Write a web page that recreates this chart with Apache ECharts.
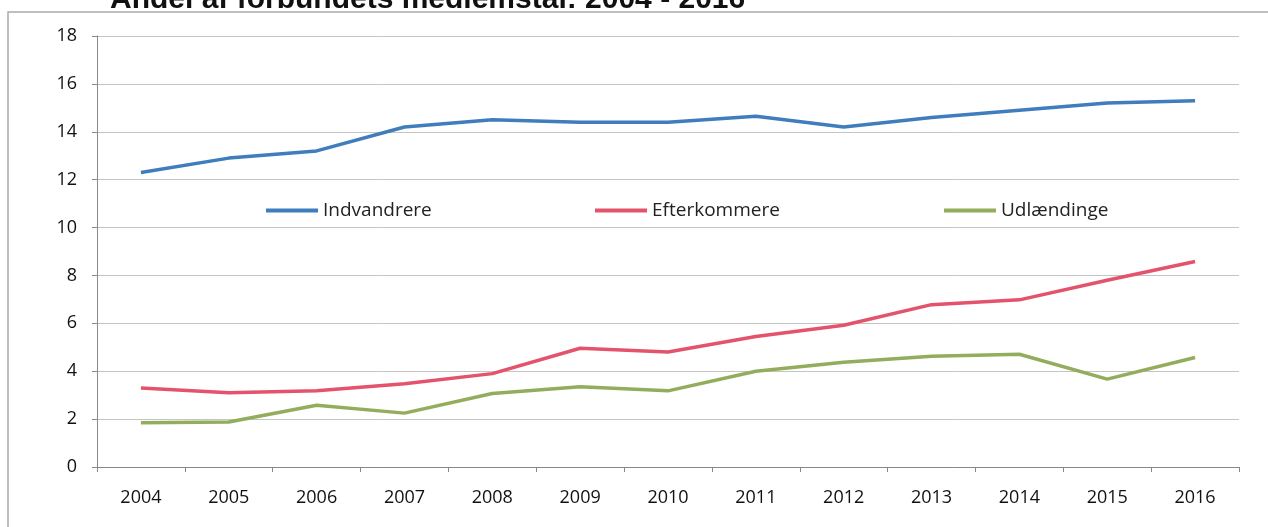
<!DOCTYPE html>
<html>
<head>
<meta charset="utf-8">
<script src="https://cdn.jsdelivr.net/npm/echarts@6/dist/echarts.min.js"></script>
<style>
html,body{margin:0;padding:0;background:#fff;}
#c{width:1268px;height:527px;}
</style>
</head>
<body>
<div id="c"></div>
<script>
const years = ['2004','2005','2006','2007','2008','2009','2010','2011','2012','2013','2014','2015','2016'];
const indvandrere = [12.3,12.9,13.2,14.2,14.5,14.4,14.4,14.65,14.2,14.6,14.9,15.2,15.3];
const efterkommere = [3.3,3.1,3.18,3.48,3.9,4.96,4.8,5.45,5.92,6.78,6.98,7.8,8.58];
const udlaendinge = [1.85,1.88,2.58,2.25,3.07,3.35,3.18,4.0,4.37,4.63,4.71,3.67,4.57];
const seriesNames = ['Indvandrere','Efterkommere','Udlændinge'];
const yTicks = {min:0, max:18, interval:2};

const font = '"Open Sans",sans-serif';
const colors = ['#3f7dbd','#e4536c','#93ad5c'];
const chart = echarts.init(document.getElementById('c'));
const legendPos = [261, 590, 939];
chart.setOption({
  animation:false,
  backgroundColor:'#fff',
  title:{
    text:'Andel af forbundets medlemstal: 2004 - 2016',
    left:105, top:-20,
    textStyle:{fontFamily:'"Liberation Sans",Arial,sans-serif',fontWeight:'bold',fontSize:30,color:'#111'}
  },
  graphic:[{
    type:'rect', shape:{x:8,y:12,width:1300,height:600}, z:-1,
    style:{fill:'none',stroke:'#aaa',lineWidth:1.5}
  }],
  legend: seriesNames.map((n,i)=>({
    data:[n], left:legendPos[i], top:196, icon:'rect', itemWidth:52, itemHeight:4,
    textStyle:{fontFamily:font,fontSize:19,color:'#222'}
  })),
  grid:{left:97,right:29,top:36,bottom:60},
  xAxis:{
    type:'category', data:years, boundaryGap:true,
    axisLine:{lineStyle:{color:'#888',width:1}},
    axisTick:{show:true,length:5,lineStyle:{color:'#888'}},
    axisLabel:{margin:22,fontFamily:font,fontSize:18,color:'#111'}
  },
  yAxis:{
    type:'value', min:yTicks.min, max:yTicks.max, interval:yTicks.interval,
    axisLine:{show:true,lineStyle:{color:'#888',width:1}},
    axisTick:{show:true,length:5,lineStyle:{color:'#888'}},
    splitLine:{lineStyle:{color:'#c4c4c4',width:1}},
    axisLabel:{margin:20,fontFamily:font,fontSize:18,color:'#111'}
  },
  series:[
    {name:seriesNames[0],type:'line',data:indvandrere,showSymbol:false,symbol:'none',lineStyle:{width:3.5,color:colors[0]},itemStyle:{color:colors[0]}},
    {name:seriesNames[1],type:'line',data:efterkommere,showSymbol:false,symbol:'none',lineStyle:{width:3.5,color:colors[1]},itemStyle:{color:colors[1]}},
    {name:seriesNames[2],type:'line',data:udlaendinge,showSymbol:false,symbol:'none',lineStyle:{width:3.5,color:colors[2]},itemStyle:{color:colors[2]}}
  ]
});
</script>
</body>
</html>
